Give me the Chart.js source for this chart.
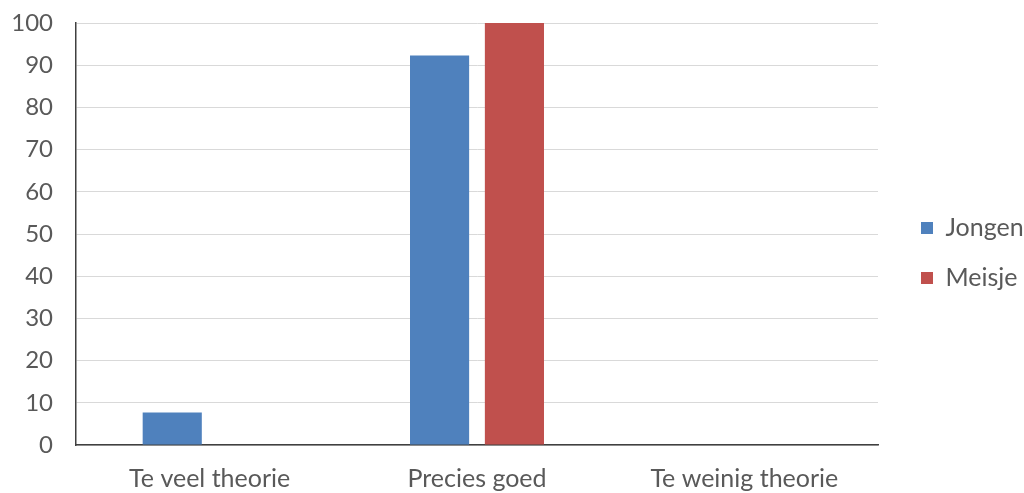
<!DOCTYPE html>
<html>
<head>
<meta charset="utf-8">
<script src="https://cdn.jsdelivr.net/npm/chart.js@4/dist/chart.umd.min.js"></script>
<style>
  html, body { margin: 0; padding: 0; background: #ffffff; }
  #wrap { width: 1024px; height: 493px; }
</style>
</head>
<body>
<div id="wrap"><canvas id="c" width="1024" height="493"></canvas></div>
<script>
// Answers per category, split by group (percent)
const categories = ['Te veel theorie', 'Precies goed', 'Te weinig theorie'];
const jongen = [7.7, 92.3, 0];
const meisje = [0, 100, 0];
const yTicks = [0, 10, 20, 30, 40, 50, 60, 70, 80, 90, 100];

const FONT = 'Lato, "Open Sans", sans-serif';
const TEXT = '#595959';

// Legend column: fixed width on the right, items pushed in from the plot edge
const LEGEND_W = 146;
const LEGEND_INSET = 18;
const LEGEND_LIFT = 5;
const legendPlacement = {
  id: 'legendPlacement',
  beforeLayout(chart) {
    const lg = chart.legend;
    if (lg && !lg._fixedWidth) {
      const fit = lg.fit.bind(lg);
      lg.fit = function () { fit(); this.width = LEGEND_W; };
      lg._fixedWidth = true;
    }
  },
  afterLayout(chart) {
    const lg = chart.legend;
    if (!lg) return;
    lg.left += LEGEND_INSET;
    lg.top -= LEGEND_LIFT;
    lg.bottom -= LEGEND_LIFT;
  }
};

new Chart(document.getElementById('c'), {
  type: 'bar',
  data: {
    labels: categories,
    datasets: [
      { label: 'Jongen', data: jongen, backgroundColor: '#4F81BD', borderWidth: 0 },
      { label: 'Meisje', data: meisje, backgroundColor: '#C0504D', borderWidth: 0 }
    ]
  },
  plugins: [legendPlacement],
  options: {
    responsive: false,
    animation: false,
    devicePixelRatio: 1,
    categoryPercentage: 0.56,
    barPercentage: 0.79,
    layout: { padding: { top: 23, right: 0, bottom: 0, left: 0 } },
    plugins: {
      tooltip: { enabled: false },
      legend: {
        position: 'right',
        align: 'center',
        labels: {
          boxWidth: 12,
          boxHeight: 12,
          padding: 25,
          color: TEXT,
          font: { family: FONT, size: 25 }
        }
      }
    },
    scales: {
      x: {
        grid: { display: false, drawTicks: false },
        border: { display: true, color: '#404040', width: 1.5 },
        ticks: { color: TEXT, padding: 19, font: { family: FONT, size: 25 } },
        afterFit: (s) => { s.height = 48; }
      },
      y: {
        min: 0,
        max: 100,
        afterBuildTicks: (s) => { s.ticks = yTicks.map(v => ({ value: v })); },
        grid: { color: '#D9D9D9', lineWidth: 1, drawTicks: false },
        border: { display: true, color: '#404040', width: 1.5 },
        ticks: { color: TEXT, padding: 23, font: { family: FONT, size: 24 } },
        afterFit: (s) => { s.width = 76; s.paddingTop = 0; s.paddingBottom = 0; }
      }
    }
  }
});
</script>
</body>
</html>
